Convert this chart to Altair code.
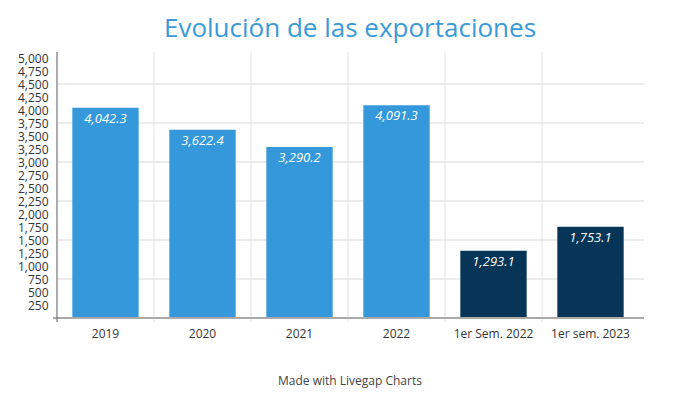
import altair as alt
import pandas as pd

categories = ["2019", "2020", "2021", "2022", "1er Sem. 2022", "1er sem. 2023"]
values = [4042.3, 3622.4, 3290.2, 4091.3, 1293.1, 1753.1]
periods = ["Anual", "Anual", "Anual", "Anual", "Semestral", "Semestral"]
y_ticks = list(range(250, 5001, 250))
grid_values = [750, 1500, 2250, 3000, 3750, 4500]
title_text = "Evolución de las exportaciones"
footer_text = "Made with Livegap Charts"

df = pd.DataFrame({"cat": categories, "value": values, "period": periods})
grid_df = pd.DataFrame({"value": grid_values})
one = alt.Data(values=[{"k": 1}])

FONT = "Open Sans"
W, H = 582, 260

xscale = alt.Scale(paddingInner=0, paddingOuter=0)
yscale = alt.Scale(domain=[0, 5000], nice=False, zero=True)

x_axis = alt.Axis(title=None, labelAngle=0, ticks=False, domain=False, grid=False,
                  labelPadding=10, labelFont=FONT, labelFontSize=12, labelColor="#333333")
y_axis = alt.Axis(title=None, values=y_ticks, format=",d", ticks=False, domain=False,
                  grid=False, labelPadding=9, labelFont=FONT, labelFontSize=12,
                  labelColor="#333333")

x_main = alt.X("cat:N", sort=categories, scale=xscale, axis=x_axis)
y_main = alt.Y("value:Q", scale=yscale, axis=y_axis)

hgrid = alt.Chart(grid_df).mark_rule(color="#ececec", strokeWidth=2).encode(
    y=y_main,
    x=alt.value(0), x2=alt.value(W + 5),
)

vgrid = alt.Chart(df).mark_rule(color="#e2e2e2", strokeWidth=1).encode(
    x=alt.X("cat:N", sort=categories, scale=xscale, bandPosition=0, axis=x_axis),
    y=alt.value(-6), y2=alt.value(H + 4),
)

bars = alt.Chart(df).mark_bar(width=alt.RelativeBandSize(0.684)).encode(
    x=x_main, y=y_main,
    color=alt.Color("period:N", scale=alt.Scale(domain=["Anual", "Semestral"],
                                                range=["#3498db", "#073558"]), legend=None),
)

labels = alt.Chart(df).mark_text(
    font=FONT, fontSize=13, fontStyle="italic", color="white",
    baseline="alphabetic", dy=15,
).encode(
    x=x_main, y=y_main,
    text=alt.Text("value:Q", format=",.1f"),
)

xline = alt.Chart(one).mark_rule(color="#aaaaaa", strokeWidth=2).encode(
    x=alt.value(-4), x2=alt.value(W + 5), y=alt.value(H),
)
yline = alt.Chart(one).mark_rule(color="#666666", strokeWidth=1).encode(
    x=alt.value(0), y=alt.value(-6), y2=alt.value(H + 4),
)

title = alt.Chart(one).mark_text(
    text=title_text, font=FONT, fontSize=26, color="#3a9ad9",
    baseline="alphabetic", align="center",
).encode(x=alt.value(W / 2 + 2), y=alt.value(-21))

footer = alt.Chart(one).mark_text(
    text=footer_text, font=FONT, fontSize=12, color="#444444",
    baseline="alphabetic", align="center",
).encode(x=alt.value(W / 2 + 2), y=alt.value(327))

chart = alt.layer(hgrid, vgrid, bars, labels, xline, yline, title, footer).properties(
    width=W, height=H,
    autosize=alt.AutoSizeParams(type="none"),
    padding={"left": 49, "top": 50, "right": 53, "bottom": 74},
).configure_view(stroke=None)

chart.save("out.html", embed_options={"renderer": "svg", "actions": False})
